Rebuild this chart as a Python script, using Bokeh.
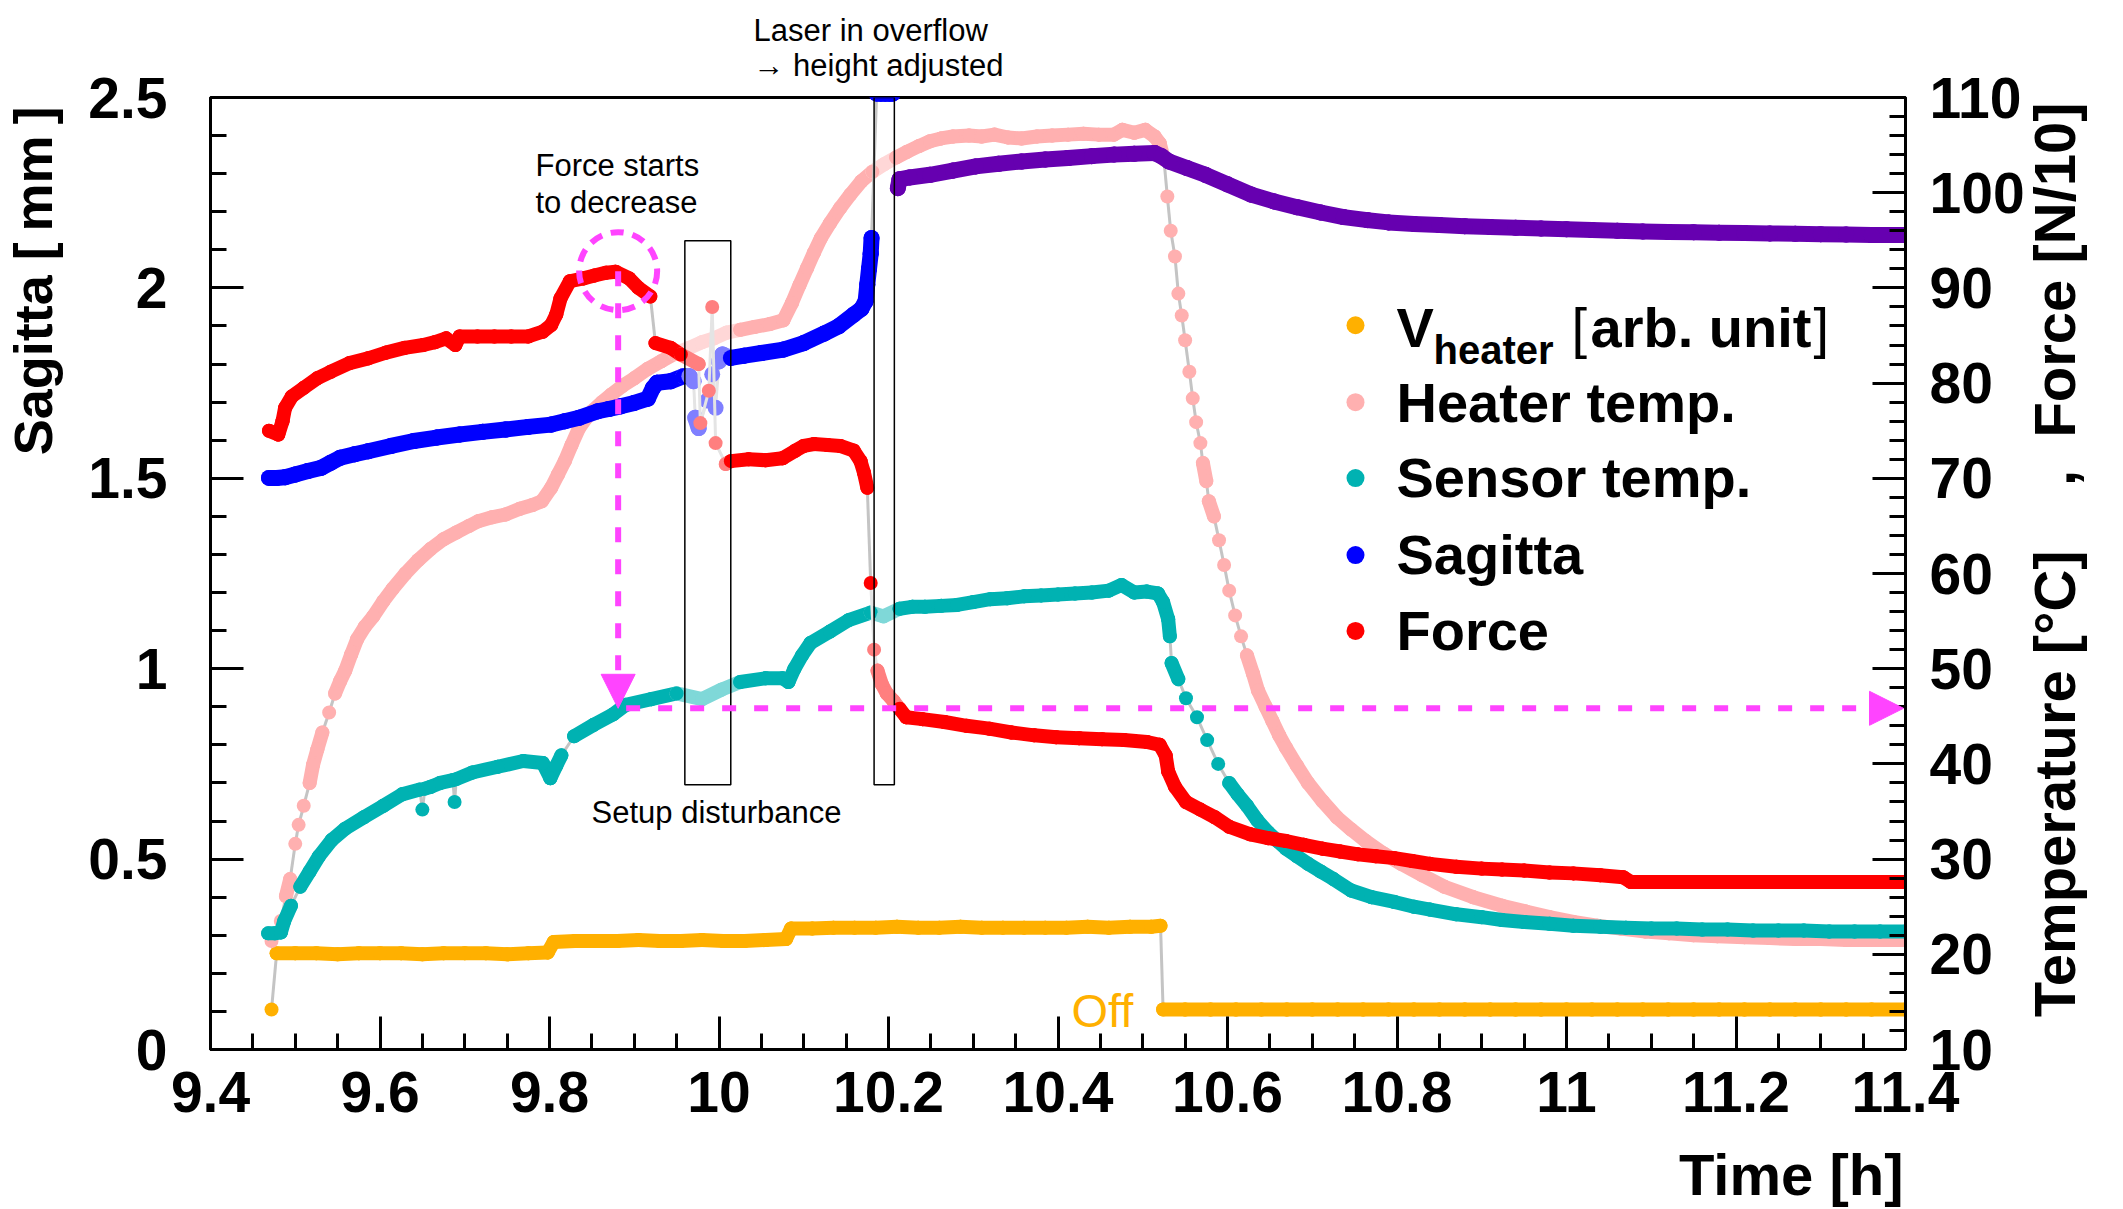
import math
from bokeh.plotting import figure
from bokeh.models import Range1d, LinearAxis, FixedTicker, Label, Arrow, NormalHead, Title
from bokeh.embed import file_html
from bokeh.resources import INLINE

# ---------------------------------------------------------------- data
# (time [h], value): V_heater / temperatures / force on the right axis, sagitta on the left axis
heater_v_pts = [(9.472,14.2),(9.478,20.1),(9.50,20.1),(9.525,20.1),(9.55,20.0),(9.575,20.1),(9.60,20.1),(9.625,20.1),
    (9.65,20.0),(9.675,20.1),(9.70,20.1),(9.725,20.1),(9.75,20.0),(9.775,20.1),(9.798,20.2),
    (9.805,21.3),(9.83,21.4),(9.855,21.4),(9.88,21.4),(9.905,21.5),(9.93,21.4),(9.955,21.4),(9.98,21.5),(10.005,21.4),
    (10.03,21.4),(10.055,21.5),(10.079,21.6),
    (10.085,22.7),(10.11,22.7),(10.135,22.8),(10.16,22.8),(10.185,22.8),(10.21,22.9),(10.235,22.8),(10.26,22.8),(10.285,22.9),
    (10.31,22.8),(10.335,22.8),(10.36,22.8),(10.385,22.8),(10.41,22.8),(10.435,22.9),(10.46,22.8),(10.485,22.9),(10.51,22.9),(10.521,23.0),
    (10.524,14.2),(10.55,14.2),(10.58,14.2),(10.61,14.2),(10.64,14.2),(10.67,14.2),(10.70,14.2),(10.73,14.2),(10.76,14.2),(10.79,14.2),
    (10.82,14.2),(10.85,14.2),(10.88,14.2),(10.91,14.2),(10.94,14.2),(10.97,14.2),(11.00,14.2),(11.03,14.2),(11.06,14.2),(11.09,14.2),
    (11.12,14.2),(11.15,14.2),(11.18,14.2),(11.21,14.2),(11.24,14.2),(11.27,14.2),(11.30,14.2),(11.33,14.2),(11.36,14.2),(11.40,14.2)]

heater_temp_pts = [(9.472,21.4),(9.483,23.5),(9.489,26.1),(9.494,27.9),(9.500,31.6),(9.504,33.6),(9.510,35.6),(9.517,38.0),
    (9.521,39.9),(9.526,41.5),(9.532,43.3),(9.540,45.4),(9.547,47.4),(9.553,48.7),(9.559,49.8),(9.566,51.5),(9.573,53.1),
    (9.582,54.4),(9.592,55.5),(9.604,57.1),(9.615,58.4),(9.630,60.0),(9.645,61.4),(9.660,62.6),(9.675,63.6),(9.690,64.3),
    (9.705,65.0),(9.716,65.5),(9.732,65.9),(9.748,66.2),(9.765,66.8),(9.780,67.2),(9.791,67.6),(9.802,69.0),(9.810,70.4),
    (9.818,71.8),(9.826,73.5),(9.835,75.3),(9.843,76.3),(9.851,77.1),(9.862,78.0),(9.873,78.8),(9.886,79.7),(9.900,80.5),
    (9.916,81.5),(9.932,82.3),(9.948,83.1),(9.965,83.7),(9.980,84.3),(9.994,84.7),(10.009,85.3),(10.025,85.6),(10.042,85.9),
    (10.060,86.2),(10.076,86.6),(10.086,88.4),(10.095,90.3),(10.104,92.1),(10.112,93.7),(10.120,95.2),(10.131,96.8),
    (10.143,98.4),(10.155,99.8),(10.168,101.2),(10.181,102.2),(10.195,103.0),(10.209,103.7),(10.222,104.3),(10.236,104.9),
    (10.249,105.4),(10.262,105.7),(10.276,105.9),(10.295,106.0),(10.310,105.9),(10.325,106.1),(10.341,105.8),(10.357,105.7),
    (10.375,105.9),(10.393,106.0),(10.412,106.1),(10.430,106.2),(10.448,106.1),(10.466,106.1),(10.476,106.6),(10.490,106.3),
    (10.503,106.6),(10.514,105.9),(10.520,105.2),(10.525,103.5),(10.529,99.6),(10.533,96.0),(10.538,93.3),(10.542,89.4),
    (10.546,87.1),(10.550,84.5),(10.555,81.2),(10.559,78.4),(10.563,75.9),(10.568,73.7),(10.571,71.6),(10.575,69.7),
    (10.578,67.6),(10.584,66.0),(10.590,63.5),(10.596,60.9),(10.602,58.2),(10.609,55.6),(10.616,53.4),(10.623,51.4),
    (10.630,49.5),(10.636,47.7),(10.645,46.0),(10.653,44.5),(10.661,43.0),(10.669,41.7),(10.682,39.8),(10.695,38.0),
    (10.712,36.1),(10.729,34.4),(10.746,33.1),(10.763,31.9),(10.784,30.6),(10.805,29.5),(10.830,28.3),(10.856,27.1),
    (10.890,26.0),(10.924,25.1),(10.952,24.5),(10.980,23.9),(11.008,23.4),(11.036,23.0),(11.064,22.7),(11.093,22.4),
    (11.121,22.2),(11.150,22.0),(11.178,21.9),(11.21,21.8),(11.24,21.7),(11.27,21.6),(11.30,21.6),(11.33,21.5),(11.36,21.5),(11.40,21.5)]

sensor_temp_pts = [(9.468,22.2),(9.476,22.2),(9.483,22.3),(9.487,23.5),(9.495,25.1),(9.506,27.1),(9.517,28.7),(9.528,30.3),
    (9.543,32.0),(9.559,33.2),(9.581,34.4),(9.604,35.6),(9.626,36.8),(9.647,37.3),(9.650,35.2),(9.653,37.4),(9.660,37.6),
    (9.671,38.0),(9.686,38.3),(9.688,36.0),(9.690,38.4),(9.709,39.1),(9.739,39.7),(9.769,40.3),(9.792,40.1),(9.801,38.5),
    (9.808,39.8),(9.814,40.9),(9.829,42.9),(9.852,44.1),(9.875,45.2),(9.890,46.2),(9.920,46.8),(9.950,47.4),(9.980,46.8),
    (10.003,47.8),(10.025,48.6),(10.055,49.0),(10.075,49.0),(10.082,48.6),(10.089,50.0),(10.098,51.4),(10.108,52.7),
    (10.131,53.9),(10.153,55.1),(10.179,55.9),(10.194,55.5),(10.213,56.3),(10.228,56.5),(10.243,56.5),(10.262,56.6),
    (10.281,56.7),(10.30,57.0),(10.32,57.3),(10.34,57.4),(10.36,57.6),(10.38,57.7),(10.40,57.8),(10.42,57.9),(10.44,58.0),
    (10.46,58.2),(10.475,58.8),(10.49,58.0),(10.505,58.1),(10.518,57.9),(10.524,57.0),(10.530,55.2),(10.532,53.4),
    (10.534,50.6),(10.542,48.9),(10.551,46.9),(10.564,44.9),(10.576,42.5),(10.589,40.0),(10.602,38.0),(10.612,36.8),
    (10.623,35.6),(10.635,34.1),(10.648,32.8),(10.659,31.9),(10.669,31.1),(10.682,30.3),(10.695,29.5),(10.710,28.7),
    (10.725,27.9),(10.746,26.7),(10.770,26.0),(10.797,25.5),(10.820,25.0),(10.839,24.7),(10.870,24.2),(10.900,23.9),
    (10.924,23.6),(10.950,23.4),(10.980,23.2),(11.008,23.0),(11.040,22.9),(11.070,22.8),(11.100,22.7),(11.130,22.7),
    (11.160,22.6),(11.190,22.6),(11.220,22.5),(11.250,22.5),(11.280,22.5),(11.310,22.4),(11.340,22.4),(11.370,22.4),(11.400,22.4)]

sagitta_pts = [(9.469,1.501),(9.478,1.501),(9.488,1.503),(9.500,1.510),(9.515,1.519),(9.531,1.528),(9.542,1.541),(9.553,1.554),
    (9.570,1.563),(9.586,1.571),(9.613,1.585),(9.640,1.598),(9.667,1.607),(9.694,1.615),(9.721,1.622),(9.748,1.628),
    (9.775,1.635),(9.802,1.641),(9.818,1.650),(9.835,1.659),(9.857,1.676),(9.870,1.682),(9.884,1.689),(9.900,1.698),
    (9.916,1.709),(9.922,1.737),(9.927,1.751),(9.943,1.755),(9.958,1.768),(9.965,1.768),(9.970,1.755),(9.972,1.659),
    (9.976,1.632),(9.986,1.704),(9.992,1.773),(9.996,1.685),(10.000,1.807),(10.004,1.825),(10.014,1.816),(10.030,1.822),
    (10.050,1.829),(10.076,1.838),(10.100,1.855),(10.124,1.880),(10.141,1.899),(10.159,1.930),(10.168,1.945),(10.173,1.965),
    (10.175,2.009),(10.177,2.050),(10.179,2.090),(10.180,2.131),(10.186,2.510),(10.191,2.510),(10.196,2.510),(10.201,2.510),(10.205,2.510)]

sagitta_adj_pts = [(10.211,2.262),(10.213,2.285),(10.225,2.290),(10.249,2.297),(10.276,2.308),(10.303,2.319),(10.330,2.326),
    (10.357,2.332),(10.385,2.337),(10.412,2.341),(10.440,2.346),(10.466,2.350),(10.490,2.352),(10.514,2.354),(10.522,2.346),
    (10.531,2.332),(10.552,2.315),(10.574,2.297),(10.600,2.272),(10.628,2.245),(10.655,2.227),(10.682,2.212),(10.710,2.198),
    (10.737,2.186),(10.765,2.178),(10.790,2.172),(10.820,2.168),(10.850,2.165),(10.880,2.162),(10.910,2.160),(10.940,2.158),
    (10.970,2.156),(11.000,2.154),(11.030,2.152),(11.060,2.150),(11.090,2.148),(11.120,2.147),(11.150,2.146),(11.180,2.145),
    (11.210,2.144),(11.240,2.143),(11.270,2.142),(11.300,2.141),(11.330,2.140),(11.360,2.139),(11.400,2.139)]

force_pts = [(9.469,75.0),(9.480,74.6),(9.485,76.0),(9.488,77.4),(9.496,78.6),(9.510,79.5),(9.526,80.5),(9.542,81.2),
    (9.564,82.1),(9.586,82.6),(9.607,83.2),(9.629,83.7),(9.651,84.0),(9.665,84.3),(9.678,84.7),(9.689,84.0),(9.694,84.9),
    (9.715,84.9),(9.735,84.9),(9.755,84.9),(9.775,84.9),(9.792,85.4),(9.802,86.1),(9.808,87.2),(9.813,88.9),(9.824,90.7),
    (9.840,91.0),(9.853,91.3),(9.867,91.6),(9.878,91.7),(9.894,91.0),(9.905,90.0),(9.919,89.1),(9.925,84.2),(9.943,83.7),
    (9.955,83.0),(9.976,82.0),(9.978,75.8),(9.988,79.2),(9.992,88.0),(9.996,73.7),(10.008,71.5),(10.014,71.8),(10.035,72.0),
    (10.055,71.9),(10.075,72.1),(10.090,72.9),(10.100,73.4),(10.112,73.6),(10.128,73.5),(10.143,73.4),(10.159,72.9),
    (10.167,71.8),(10.171,70.6),(10.175,69.0),(10.179,59.0),(10.183,52.0),(10.187,49.8),(10.192,48.4),(10.198,47.4),
    (10.206,46.6),(10.213,45.8),(10.221,44.9),(10.240,44.7),(10.266,44.4),(10.292,44.0),(10.319,43.7),(10.345,43.3),
    (10.372,43.0),(10.398,42.8),(10.425,42.7),(10.452,42.6),(10.478,42.5),(10.505,42.3),(10.520,42.0),(10.527,40.9),
    (10.530,39.2),(10.538,37.6),(10.551,36.0),(10.568,35.2),(10.585,34.4),(10.602,33.4),(10.627,32.6),(10.648,32.2),
    (10.669,31.9),(10.690,31.5),(10.712,31.1),(10.733,30.8),(10.754,30.5),(10.775,30.3),(10.797,30.1),(10.818,29.8),
    (10.839,29.5),(10.870,29.2),(10.900,29.0),(10.924,28.9),(10.950,28.8),(10.980,28.6),(11.008,28.5),(11.040,28.3),
    (11.067,28.1),(11.076,27.6),(11.11,27.6),(11.14,27.6),(11.17,27.6),(11.20,27.6),(11.23,27.6),(11.26,27.6),(11.29,27.6),
    (11.32,27.6),(11.35,27.6),(11.38,27.6),(11.40,27.6)]

x_ticks = [9.4, 9.6, 9.8, 10.0, 10.2, 10.4, 10.6, 10.8, 11.0, 11.2, 11.4]
x_tick_labels = ["9.4", "9.6", "9.8", "10", "10.2", "10.4", "10.6", "10.8", "11", "11.2", "11.4"]
left_ticks = [0.0, 0.5, 1.0, 1.5, 2.0, 2.5]
left_tick_labels = ["0", "0.5", "1", "1.5", "2", "2.5"]
right_ticks = [10, 20, 30, 40, 50, 60, 70, 80, 90, 100, 110]
right_tick_labels = ["10", "20", "30", "40", "50", "60", "70", "80", "90", "100", "110"]

legend_names = ["Heater temp.", "Sensor temp.", "Sagitta", "Force"]

# marked regions (time from, time to, sagitta from, sagitta to)
box_disturbance = (9.9597, 10.0139, 0.695, 2.124)
box_overflow = (10.183, 10.2069, 0.695, 2.5)

# ---------------------------------------------------------------- style
C_ORANGE = "#FFB000"
C_PINK = "#FFB0B0"
C_TEAL = "#00B2B2"
C_BLUE = "#0000FF"
C_PURPLE = "#6600B0"
C_RED = "#FF0000"
C_MAG = "#FF44FF"
FONT = "Liberation Sans"
NB = "\u00a0"
THIN = "\u2009"

FR_L, FR_R, FR_T, FR_B = 210, 1905, 96, 1049     # frame in page pixels
W, H = 2123, 1209
X_LO, X_HI = 9.4, 11.4
S_LO, S_HI = 0.0, 2.5
R_LO, R_HI = 10.0, 110.0
PX_H = (FR_R - FR_L) / (X_HI - X_LO)
PX_S = (FR_B - FR_T) / (S_HI - S_LO)
PX_R = (FR_B - FR_T) / (R_HI - R_LO)
TXT_SHIFT = 0.36   # svg text sits this many em below the requested alphabetic baseline


def dx(px):
    return X_LO + (px - FR_L) / PX_H


def dy(py):
    return S_LO + (FR_B - py) / PX_S


def try_set(obj, name, val):
    try:
        setattr(obj, name, val)
        return True
    except Exception:
        return False


p = figure(width=W, height=H, x_range=Range1d(X_LO, X_HI), y_range=Range1d(S_LO, S_HI),
           output_backend="svg", toolbar_location=None,
           min_border_left=FR_L, min_border_right=W - FR_R,
           min_border_top=FR_T, min_border_bottom=H - FR_B)
p.extra_y_ranges = {"right": Range1d(R_LO, R_HI)}
p.grid.visible = False
p.outline_line_color = "black"
p.outline_line_width = 3
p.background_fill_color = "white"
p.border_fill_color = "white"

raxis = LinearAxis(y_range_name="right")
p.add_layout(raxis, "right")
xax = p.xaxis[0]
lax = p.yaxis[0]

x_minor = [round(X_LO + 0.05 * i, 3) for i in range(41) if i % 4]
l_minor = [round(0.1 * i, 2) for i in range(26) if i % 5]
r_minor = [10 + 2 * i for i in range(51) if i % 5]

xax.ticker = FixedTicker(ticks=x_ticks, minor_ticks=x_minor)
xax.major_label_overrides = dict(zip(x_ticks, x_tick_labels))
lax.ticker = FixedTicker(ticks=left_ticks, minor_ticks=l_minor)
lax.major_label_overrides = dict(zip(left_ticks, left_tick_labels))
raxis.ticker = FixedTicker(ticks=right_ticks, minor_ticks=r_minor)
raxis.major_label_overrides = dict(zip(right_ticks, right_tick_labels))

for ax, standoff in [(xax, 22), (lax, 43), (raxis, 24)]:
    ax.axis_line_width = 3
    ax.axis_line_color = "black"
    ax.major_tick_line_width = 3
    ax.minor_tick_line_width = 3
    ax.major_tick_in = 33
    ax.major_tick_out = 0
    ax.minor_tick_in = 16
    ax.minor_tick_out = 0
    ax.major_label_text_font = FONT
    ax.major_label_text_font_style = "bold"
    ax.major_label_text_font_size = "57px"
    ax.major_label_text_color = "black"
    ax.major_label_standoff = standoff
    ax.axis_label_text_font = FONT
    ax.axis_label_text_font_style = "bold"
    ax.axis_label_text_color = "black"

# ---- axis titles (padding with no-break spaces moves the visible words along the axis)
xax.axis_label_text_font_size = "58px"
xax.axis_label_standoff = 27
xax.axis_label = NB * 91 + "Time [h]"

lax.axis_label_text_font_size = "54px"
lax.axis_label_standoff = 22
lax.axis_label = NB * 39 + "Sagitta [" + THIN + "mm" + THIN + "]"

raxis.axis_label_text_font_size = "58px"
raxis.axis_label_standoff = 27
try_set(raxis, "axis_label_orientation", math.pi / 2)
try_set(raxis, "axis_label_align", "start")
raxis.axis_label = NB * 2 + "Temperature [\u00b0C]" + NB * 4 + "," + NB * 2 + "Force [N/10]"

# ---- two-line note above the frame
p.add_layout(Title(text="Laser in overflow\n\u2192 height adjusted", align="left", offset=543,
                   vertical_align="top", standoff=25, text_font=FONT, text_font_size="31px",
                   text_font_style="normal", text_color="black", text_line_height=1.0), "above")


def lighten(c, f=0.5):
    r, g, b = int(c[1:3], 16), int(c[3:5], 16), int(c[5:7], 16)
    r, g, b = [int(v + (255 - v) * f) for v in (r, g, b)]
    return "#%02X%02X%02X" % (r, g, b)


def in_box(t, s):
    for (t0, t1, s0, s1) in (box_disturbance, box_overflow):
        if t0 <= t <= t1 and s0 <= s <= s1:
            return True
    return False


def draw_series(pts, color, size, right):
    ts = [a for a, b in pts]
    vs = [b for a, b in pts]
    ppu = PX_R if right else PX_S
    to_s = (lambda v: (v - R_LO) / (R_HI - R_LO) * (S_HI - S_LO)) if right else (lambda v: v)
    rn = "right" if right else "default"
    light = [in_box(t, to_s(v)) for t, v in zip(ts, vs)]
    lc = lighten(color)
    g = dict(x0=[], y0=[], x1=[], y1=[], c=[])
    b = dict(x0=[], y0=[], x1=[], y1=[], c=[])
    for i in range(len(ts) - 1):
        lt = light[i] or light[i + 1]
        g["x0"].append(ts[i]); g["y0"].append(vs[i]); g["x1"].append(ts[i + 1]); g["y1"].append(vs[i + 1])
        g["c"].append("#E4E4E4" if lt else "#C4C4C4")
        ddx = (ts[i + 1] - ts[i]) * PX_H
        ddy = abs(vs[i + 1] - vs[i]) * ppu
        if ddx <= 36 and ddy <= 19:
            b["x0"].append(ts[i]); b["y0"].append(vs[i]); b["x1"].append(ts[i + 1]); b["y1"].append(vs[i + 1])
            b["c"].append(lc if lt else color)
    p.segment(g["x0"], g["y0"], g["x1"], g["y1"], line_color=g["c"], line_width=3, y_range_name=rn)
    p.segment(b["x0"], b["y0"], b["x1"], b["y1"], line_color=b["c"], line_width=size,
              line_cap="round", y_range_name=rn)
    p.scatter(ts, vs, size=size, fill_color=[lc if l else color for l in light], line_color=None,
              y_range_name=rn)


draw_series(heater_v_pts, C_ORANGE, 14, True)
draw_series(heater_temp_pts, C_PINK, 14, True)
draw_series(sensor_temp_pts, C_TEAL, 14, True)
draw_series(sagitta_pts, C_BLUE, 16, False)
draw_series(sagitta_adj_pts, C_PURPLE, 16, False)
draw_series(force_pts, C_RED, 14, True)

# ------------------------------------------------ boxes
p.quad(left=[box_disturbance[0], box_overflow[0]], right=[box_disturbance[1], box_overflow[1]],
       bottom=[box_disturbance[2], box_overflow[2]], top=[box_disturbance[3], box_overflow[3]],
       fill_color=None, line_color="black", line_width=1.5)

# ------------------------------------------------ magenta annotation
CIRC_T, CIRC_S = 9.881, 2.044
ARROW_S = 0.896
HEAD = 34
p.circle(x=[CIRC_T], y=[CIRC_S], radius=39, radius_units="screen", fill_color=None,
         line_color=C_MAG, line_width=6, line_dash="13 9")
p.segment(x0=[CIRC_T], y0=[CIRC_S], x1=[CIRC_T], y1=[ARROW_S + HEAD / PX_S],
          line_color=C_MAG, line_width=6, line_dash="15 17")
p.segment(x0=[CIRC_T + 8 / PX_H], y0=[ARROW_S], x1=[X_HI - HEAD / PX_H], y1=[ARROW_S],
          line_color=C_MAG, line_width=6, line_dash="14 18")
p.add_layout(Arrow(end=NormalHead(size=HEAD, fill_color=C_MAG, line_color=C_MAG, line_width=1),
                   x_start=CIRC_T, y_start=ARROW_S + 2 * HEAD / PX_S, x_end=CIRC_T, y_end=ARROW_S,
                   line_color=None))
p.add_layout(Arrow(end=NormalHead(size=HEAD, fill_color=C_MAG, line_color=C_MAG, line_width=1),
                   x_start=X_HI - 2 * HEAD / PX_H, y_start=ARROW_S, x_end=X_HI - 2 / PX_H, y_end=ARROW_S,
                   line_color=None))


def label(px, py, text, size, bold=False, align="left", color="black"):
    ya = py - TXT_SHIFT * size
    p.add_layout(Label(x=dx(px), y=dy(ya), text=text, text_font=FONT, text_font_size="%dpx" % size,
                       text_font_style="bold" if bold else "normal", text_align=align,
                       text_baseline="alphabetic", text_color=color))


# annotation texts inside the frame (px, py = wanted baseline position in page pixels)
label(535, 175, "Force starts", 31)
label(535, 212, "to decrease", 31)
label(716, 823, "Setup disturbance", 31, align="center")
label(1071, 1027, "Off", 47, color=C_ORANGE)

# legend
LEG_X_DOT, LEG_X_TXT = 1355, 1396
LEG_Y = [324, 401, 477, 554, 630]
p.scatter([dx(LEG_X_DOT)] * 5, [dy(y) for y in LEG_Y], size=18,
          fill_color=[C_ORANGE, C_PINK, C_TEAL, C_BLUE, C_RED], line_color=None)
y0 = LEG_Y[0]
label(LEG_X_TXT, y0 + 22, "V", 56, bold=True)
label(1433, y0 + 39, "heater", 40, bold=True)
label(1571, y0 + 22, "[", 56)
label(1590, y0 + 22, "arb. unit", 56, bold=True)
label(1813, y0 + 22, "]", 56)
for name, yc in zip(legend_names, LEG_Y[1:]):
    label(LEG_X_TXT, yc + 20, name, 56, bold=True)

open("out.html", "w").write(file_html(p, INLINE))
